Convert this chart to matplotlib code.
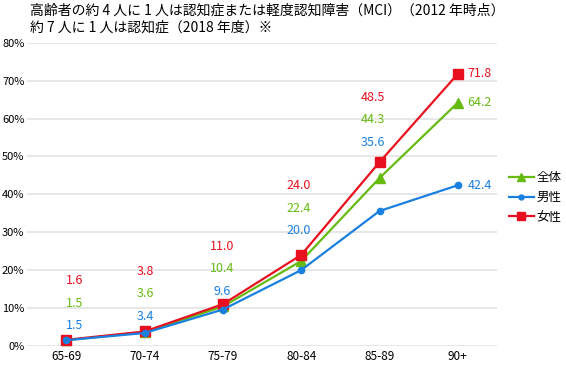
import matplotlib.pyplot as plt

plt.rcParams['font.family'] = ['Noto Sans CJK JP', 'DejaVu Sans']

ages = ['65-69', '70-74', '75-79', '80-84', '85-89', '90+']
zentai = [1.5, 3.6, 10.4, 22.4, 44.3, 64.2]
dansei = [1.5, 3.4, 9.6, 20.0, 35.6, 42.4]
josei = [1.6, 3.8, 11.0, 24.0, 48.5, 71.8]
yticks = [0, 10, 20, 30, 40, 50, 60, 70, 80]

green = '#66bb11'
blue = '#1a80e0'
red = '#e8101e'

# label stack placement (pixels) for the first five columns
lab_dy = [14, 15, 13, 24, 20]
lab_dx = [8, 1, -1, -3, -7]

fig = plt.figure(figsize=(5.66, 3.66), dpi=100)
ax = fig.add_axes([0.048, 0.055, 0.83, 0.828])

x = list(range(len(ages)))
ax.plot(x, zentai, color=green, lw=1.6, marker='^', ms=6.5, label='全体', zorder=3)
ax.plot(x, josei, color=red, lw=1.6, marker='s', ms=6.5, label='女性', zorder=4)
ax.plot(x, dansei, color=blue, lw=1.6, marker='o', ms=4.5, label='男性', zorder=5)

px = 0.72
for i in range(len(ages) - 1):
    top = josei[i]
    for val, col, gap in [(dansei[i], blue, 0), (zentai[i], green, 22.5), (josei[i], red, 45)]:
        ax.annotate(f'{val:.1f}', (i, top),
                    xytext=(lab_dx[i] * px, (lab_dy[i] + gap) * px), textcoords='offset points',
                    ha='center', va='center', color=col, fontsize=9)
last = len(ages) - 1
for val, col in [(josei[last], red), (zentai[last], green), (dansei[last], blue)]:
    ax.annotate(f'{val:.1f}', (last, val), xytext=(7, 0), textcoords='offset points',
                ha='left', va='center', color=col, fontsize=9)

ax.set_xlim(-0.5, 5.5)
ax.set_ylim(0, 80)
ax.set_yticks(yticks)
ax.set_yticklabels([f'{t}%' for t in yticks], fontsize=8)
ax.set_xticks(x)
ax.set_xticklabels(ages, fontsize=8.5)
ax.tick_params(axis='x', length=0, pad=3)
ax.tick_params(axis='y', length=0, pad=2)
for s in ax.spines.values():
    s.set_visible(False)
ax.grid(axis='y', color='#e3e3e3', lw=1.2)
ax.set_axisbelow(True)

h, l = ax.get_legend_handles_labels()
order = [0, 2, 1]
ax.legend([h[k] for k in order], [l[k] for k in order], loc='center left',
          bbox_to_anchor=(1.025, 0.49), frameon=False, fontsize=9,
          handlelength=2.0, handletextpad=0.25, labelspacing=0.55, borderaxespad=0,
          borderpad=0, markerscale=0.8)

fig.text(0.053, 0.99, '高齢者の約 4 人に 1 人は認知症または軽度認知障害（MCI）（2012 年時点）',
         fontsize=10, va='top', ha='left')
fig.text(0.053, 0.943, '約 7 人に 1 人は認知症（2018 年度）※',
         fontsize=10, va='top', ha='left')

fig.savefig('out.png', dpi=100)
